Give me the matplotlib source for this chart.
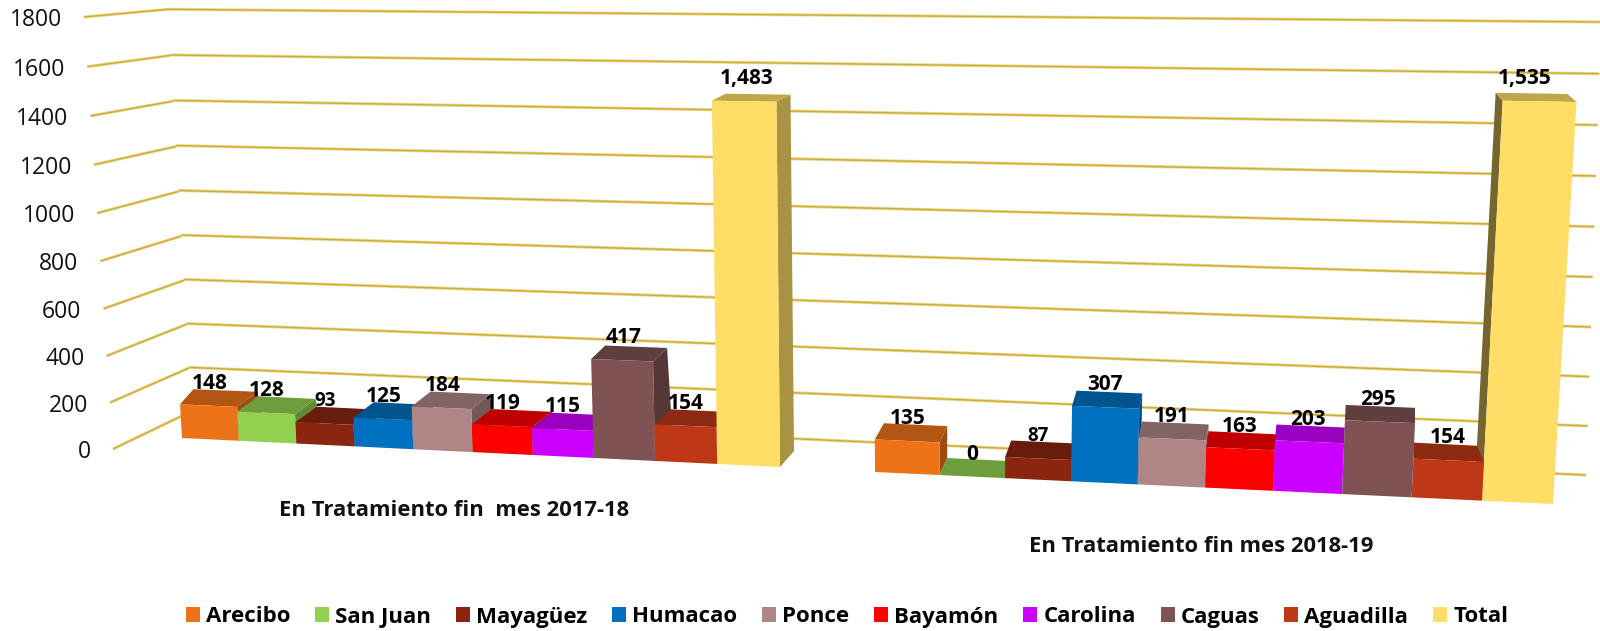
import numpy as np
import matplotlib
matplotlib.use("Agg")
import matplotlib.pyplot as plt
from matplotlib.colors import to_rgb
from matplotlib.patches import Patch, Polygon
from matplotlib.transforms import Transform
import matplotlib.patheffects as pe

regions = ["Arecibo", "San Juan", "Mayagüez", "Humacao", "Ponce",
           "Bayamón", "Carolina", "Caguas", "Aguadilla", "Total"]
values_2017_18 = [148, 128, 93, 125, 184, 119, 115, 417, 154, 1483]
values_2018_19 = [135, 0, 87, 307, 191, 163, 203, 295, 154, 1535]
colors = ["#EE7318", "#92D14F", "#8B2510", "#0070C0", "#AF8585",
          "#FF0000", "#CC00FF", "#7F5353", "#BE3818", "#FFDD67"]
y_ticks = [0, 200, 400, 600, 800, 1000, 1200, 1400, 1600, 1800]
group_titles = ["En Tratamiento fin  mes 2017-18", "En Tratamiento fin mes 2018-19"]

plt.rcParams["font.family"] = ["Open Sans", "DejaVu Sans"]
GRID = "#D2AE30"
TOP_F, RIGHT_F, LEFT_F = 0.75, 0.66, 0.46


class Homography(Transform):
    """Perspective map of a chart plane (slot, value) onto the picture."""
    input_dims = output_dims = 2
    is_separable = False
    has_inverse = False

    def __init__(self, src, dst):
        super().__init__()
        A, b = [], []
        for (x, y), (u, v) in zip(src, dst):
            A.append([x, y, 1, 0, 0, 0, -u * x, -u * y]); b.append(u)
            A.append([0, 0, 0, x, y, 1, -v * x, -v * y]); b.append(v)
        self.m = np.append(np.linalg.solve(np.array(A, float), np.array(b, float)), 1).reshape(3, 3)

    def transform_non_affine(self, values):
        v = np.asarray(values, float).reshape(-1, 2)
        p = np.c_[v, np.ones(len(v))] @ self.m.T
        return p[:, :2] / p[:, 2:3]


fig = plt.figure(figsize=(16, 6.31), dpi=100)
ax = fig.add_axes([0, 0, 1, 1])
ax.set_xlim(0, 1600)
ax.set_ylim(631, 0)
ax.autoscale(False)
ax.axis("off")

# chart planes
back = Homography([(0, 0), (1, 0), (1, 1800), (0, 1800)],
                  [(192, 411), (1586, 475), (1601, 22), (168, 9.3)])
side = Homography([(0, 0), (1, 0), (1, 1800), (0, 1800)],
                  [(113, 449), (192, 411), (168, 9.3), (84, 17)])
front1 = Homography([(0, 0), (10, 0), (10, 1483), (0, 1483)],
                    [(182, 438), (780, 467), (776.5, 101.7), (162, 92)])
front2 = Homography([(0, 0), (10, 0), (10, 1535), (0, 1535)],
                    [(875, 472), (1553, 504), (1576.5, 102), (873, 90)])

# gridlines and value axis
stroke = [pe.withStroke(linewidth=2.3, foreground="#EADCA6")]
for t in y_ticks:
    for plane in (side, back):
        ax.plot([0, 1], [t, t], color=GRID, lw=1.1, transform=plane + ax.transData,
                path_effects=stroke, zorder=1, solid_capstyle="butt")
    px, py = side.transform_non_affine([(0, t)])[0]
    ax.text(px - 22, py + 3, str(t), ha="right", va="center", fontsize=16.5, color="#111111", zorder=50)


def depth1(s, v):
    low = np.interp(s, [0, 1, 6, 10], [13, 24, 22, 14])
    w = min(v / 417, 1)
    return low * (1 - w) + 14 * w, -(16 - 9 * v / 1483)


def depth2(s, v):
    return np.interp(s, [0, 4, 8, 9, 10], [9, 3, 0, -7, -9]), -(17 - 9 * v / 1535)


def shade(c, f):
    return tuple(x * f for x in to_rgb(c))


def draw_bar(s, v, color, plane, depth, z):
    def pt(a, b):
        return plane.transform_non_affine([(a, b)])[0]

    def back_pt(a, b):
        return pt(a, b) + np.array(depth(a, b))

    if depth(s + 1, v)[0] > 0.5:      # right face
        ax.add_patch(Polygon([pt(s + 1, 0), pt(s + 1, v), back_pt(s + 1, v), back_pt(s + 1, 0)],
                             fc=shade(color, RIGHT_F), lw=0, zorder=z))
    if depth(s, v)[0] < -0.5:         # left face
        ax.add_patch(Polygon([pt(s, 0), pt(s, v), back_pt(s, v), back_pt(s, 0)],
                             fc=shade(color, LEFT_F), lw=0, zorder=z))
    ax.add_patch(Polygon([pt(s, v), pt(s + 1, v), back_pt(s + 1, v), back_pt(s, v)],
                         fc=shade(color, TOP_F), lw=0, zorder=z + 0.1))
    ax.bar(s, v, width=1, align="edge", color=color, lw=0, zorder=z + 0.2,
           transform=plane + ax.transData)


def draw_group(vals, plane, depth, order, base_z):
    for k, i in enumerate(order):
        draw_bar(i, vals[i], colors[i], plane, depth, base_z + k)
    for i, v in enumerate(vals):
        x = plane.transform_non_affine([(i + 0.5, 0.35 * v)])[0][0]
        y = plane.transform_non_affine([(i + 0.5, v)])[0][1]
        ax.text(x, y - 22.5, f"{v:,}", ha="center", va="center", fontweight="bold",
                fontsize=13.5 if 0 < v < 100 else 15, color="black", zorder=60)


draw_group(values_2017_18, front1, depth1, list(range(10)), 5)
draw_group(values_2018_19, front2, depth2, [0, 1, 2, 3, 4, 5, 6, 9, 8, 7], 20)

ax.text(454, 510, group_titles[0], ha="center", va="center", fontweight="bold", fontsize=15.8, color="#111111")
ax.text(1201, 547, group_titles[1], ha="center", va="center", fontweight="bold", fontsize=15.8, color="#111111")

handles = [Patch(fc=c, lw=0, label=r) for c, r in zip(colors, regions)]
ax.legend(handles=handles, ncol=10, loc="center", bbox_to_anchor=(847, 617),
          bbox_transform=ax.transData, frameon=False,
          prop={"weight": "bold", "size": 16}, borderpad=0, borderaxespad=0,
          handlelength=0.63, handleheight=0.63, handletextpad=0.27, columnspacing=1.12)

fig.savefig("out.png", dpi=100, facecolor="white")
